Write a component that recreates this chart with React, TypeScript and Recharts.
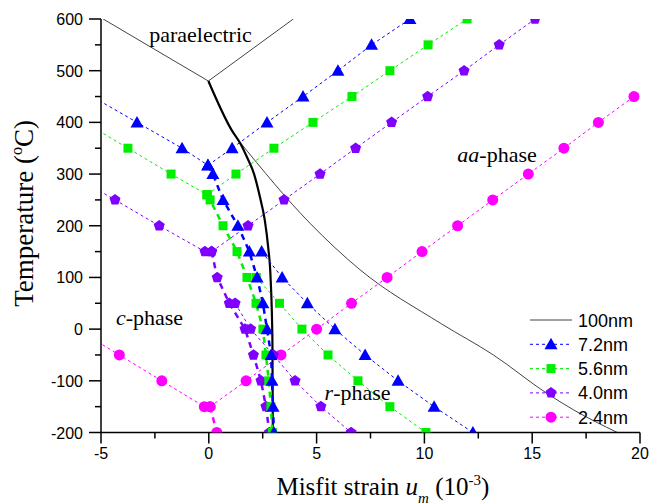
import React from "react";
import {
  LineChart,
  Line,
  XAxis,
  YAxis,
  Legend,
  ReferenceDot
} from "recharts";

// axis ticks
const xTicks = [-5, -2.5, 0, 2.5, 5, 7.5, 10, 12.5, 15, 17.5, 20];
const yTicks = [-200, -150, -100, -50, 0, 50, 100, 150, 200, 250, 300, 350, 400, 450, 500, 550, 600];

// [misfit strain (10^-3), temperature (C)]
// 100nm phase boundaries
const bulkParaC = [[-4.9, 600], [-0.02, 480]];
const bulkParaAA = [[-0.02, 480], [3.92, 600]];
const bulkCR = [[-0.02, 480], [1.06, 385], [1.45, 360], [1.8, 330], [2.1, 300], [2.37, 256], [2.6, 210], [2.75, 160], [2.87, 95], [2.95, -20], [2.97, -200]];
const bulkRA = [[1.4, 364], [4.69, 205], [7.01, 115], [10.8, 10], [13.2, -50], [15.67, -124], [16.91, -156], [18.95, -200]];

// 7.2nm
const blueParaC = [[-7.5, 500], [-3.33, 400], [-1.24, 350], [-0.04, 317]];
const blueParaAA = [[-0.04, 317], [1.08, 350], [2.7, 400], [4.37, 450], [5.99, 500], [7.55, 550], [9.33, 600]];
const blueCR = [[-0.04, 317], [0.19, 300], [0.66, 250], [1.35, 200], [1.88, 150], [2.24, 100], [2.51, 50], [2.7, 0], [2.89, -50], [2.93, -100], [2.98, -150], [3.02, -200]];
const blueRA = [[2.45, 150], [3.4, 100], [4.57, 50], [5.85, 0], [7.25, -50], [8.78, -100], [10.45, -150], [12.25, -200]];

// 5.6nm
const greenParaC = [[-7.75, 450], [-3.75, 350], [-1.75, 300], [-0.08, 260]];
const greenParaAA = [[-0.08, 260], [1.26, 300], [3.02, 350], [4.83, 400], [6.64, 450], [8.4, 500], [10.17, 550], [11.98, 600]];
const greenCR = [[-0.08, 260], [0.06, 250], [0.66, 200], [1.31, 150], [1.77, 100], [2.19, 50], [2.51, 0], [2.65, -50], [2.78, -100], [2.88, -150], [2.95, -200]];
const greenRA = [[2.2, 100], [3.28, 50], [4.32, 0], [5.53, -50], [6.92, -100], [8.4, -150], [10.07, -200]];

// 4.0nm
const purpleParaC = [[-8.45, 350], [-4.35, 250], [-2.3, 200], [-0.18, 150]];
const purpleParaAA = [[0.13, 150], [1.82, 200], [3.49, 250], [5.16, 300], [6.81, 350], [8.48, 400], [10.15, 450], [11.84, 500], [13.47, 550], [15.13, 600]];
const purpleCR = [[0.13, 150], [0.39, 100], [0.95, 50], [1.68, 0], [2.07, -50], [2.42, -100], [2.65, -150], [2.81, -200]];
const purpleRA = [[1.22, 50], [1.94, 0], [3.0, -50], [4.0, -100], [5.2, -150], [6.6, -200]];

// 2.4nm
const pinkParaC = [[-6.12, 0], [-4.15, -50], [-2.18, -100], [-0.21, -150]];
const pinkParaAA = [[0.06, -150], [1.73, -100], [3.35, -50], [5.0, 0], [6.62, 50], [8.27, 100], [9.89, 150], [11.54, 200], [13.17, 250], [14.82, 300], [16.47, 350], [18.07, 400], [19.72, 450], [21.4, 500]];
const pinkCR = [[0.06, -150], [0.37, -200]];

// phase labels
const phaseItalic = ["", "aa", "c", "r"];
const phaseRest = ["paraelectric", "-phase", "-phase", "-phase"];
const phaseU = [-0.385, 13.37, -2.75, 6.9];
const phaseT = [555, 323, 8, -137];

const legendNames = ["100nm", "7.2nm", "5.6nm", "4.0nm", "2.4nm"];

const SANS = '"Liberation Sans", Arial, sans-serif';
const SERIF = '"Liberation Serif", "Times New Roman", serif';

const BLUE = "#0000ff";
const GREEN = "#00ee00";
const PURPLE = "#7f00ff";
const PINK = "#ff00ff";
const GRAY = "#444444";

type MarkerKind = "tri" | "sq" | "pent" | "circ" | "none";

const toPts = (arr: number[][]) => arr.map(([u, t]) => ({ u, t }));

const Marker = ({ kind, cx, cy, color }: { kind: MarkerKind; cx: number; cy: number; color: string }) => {
  if (kind === "tri") {
    return <polygon points={`${cx},${cy - 6.5} ${cx + 6.5},${cy + 5} ${cx - 6.5},${cy + 5}`} fill={color} />;
  }
  if (kind === "sq") {
    return <rect x={cx - 4.5} y={cy - 4.5} width={9} height={9} fill={color} />;
  }
  if (kind === "pent") {
    const pts = [0, 1, 2, 3, 4]
      .map((i) => {
        const a = -Math.PI / 2 + (i * 2 * Math.PI) / 5;
        return `${cx + 5.8 * Math.cos(a)},${cy + 5.8 * Math.sin(a)}`;
      })
      .join(" ");
    return <polygon points={pts} fill={color} />;
  }
  if (kind === "circ") {
    return <circle cx={cx} cy={cy} r={5.5} fill={color} />;
  }
  return null;
};

const branch = (id: string, data: number[][], color: string, kind: MarkerKind, style: "thin" | "thick" | "solid" | "bold") => {
  const strokeProps =
    style === "thin"
      ? { strokeWidth: 1, strokeDasharray: "3 3" }
      : style === "thick"
      ? { strokeWidth: 2.5, strokeDasharray: "6 5" }
      : style === "bold"
      ? { strokeWidth: 2.2 }
      : { strokeWidth: 1 };
  return (
    <Line
      key={id}
      data={toPts(data)}
      dataKey="t"
      type={style === "bold" || (style === "solid" && data.length > 2) ? "monotone" : "linear"}
      stroke={color}
      {...strokeProps}
      dot={
        kind === "none"
          ? false
          : (p: any) =>
              p.cx == null || p.cy == null ? (
                <g key={`${id}-${p.index}`} />
              ) : (
                <g key={`${id}-${p.index}`}>
                  <Marker kind={kind} cx={p.cx} cy={p.cy} color={color} />
                </g>
              )
      }
      activeDot={false}
      isAnimationActive={false}
      legendType="none"
    />
  );
};

const XTick = (props: any) => {
  const { x, y, payload } = props;
  const v = payload.value;
  const major = v % 5 === 0;
  return (
    <g>
      <line x1={x} y1={y} x2={x} y2={y + (major ? 11 : 6)} stroke="#000" strokeWidth={1.5} />
      {major && (
        <text x={x} y={y + 26.5} textAnchor="middle" fontFamily={SANS} fontSize={16} fill="#000">
          {v}
        </text>
      )}
    </g>
  );
};

const YTick = (props: any) => {
  const { x, y, payload } = props;
  const v = payload.value;
  const major = v % 100 === 0;
  return (
    <g>
      <line x1={x - (major ? 12 : 6)} y1={y} x2={x} y2={y} stroke="#000" strokeWidth={1.5} />
      {major && (
        <text x={x - 18} y={y + 6} textAnchor="end" fontFamily={SANS} fontSize={16} fill="#000">
          {v}
        </text>
      )}
    </g>
  );
};

const XTitle = (props: any) => {
  const vb = props.viewBox;
  const cx = vb.x + vb.width * 0.523;
  return (
    <text x={cx} y={vb.y + 62} textAnchor="middle" fontFamily={SERIF} fontSize={25} fill="#000">
      Misfit strain <tspan fontStyle="italic">u</tspan>
      <tspan fontStyle="italic" fontSize={15} dy={8}>m</tspan>
      <tspan dy={-8}> (10</tspan>
      <tspan fontSize={15} dy={-10}>-3</tspan>
      <tspan dy={10}>)</tspan>
    </text>
  );
};

const YTitle = (props: any) => {
  const vb = props.viewBox;
  const cx = vb.x + 33;
  const cy = vb.y + vb.height * 0.47;
  return (
    <text
      x={cx}
      y={cy}
      transform={`rotate(-90 ${cx} ${cy})`}
      textAnchor="middle"
      fontFamily={SERIF}
      fontSize={27}
      fill="#000"
    >
      Temperature (<tspan fontSize={16} dy={-11}>o</tspan>
      <tspan dy={11}>C)</tspan>
    </text>
  );
};

const phaseLabel = (i: number) => (props: any) => {
  const vb = props.viewBox;
  return (
    <text x={vb.x} y={vb.y} textAnchor="middle" fontFamily={SERIF} fontSize={22} fill="#000">
      {phaseItalic[i] && <tspan fontStyle="italic">{phaseItalic[i]}</tspan>}
      {phaseRest[i]}
    </text>
  );
};

const legendStyle: { color: string; kind: MarkerKind; dashed: boolean }[] = [
  { color: GRAY, kind: "none", dashed: false },
  { color: BLUE, kind: "tri", dashed: true },
  { color: GREEN, kind: "sq", dashed: true },
  { color: PURPLE, kind: "pent", dashed: true },
  { color: PINK, kind: "circ", dashed: true }
];

const LegendBox = () => (
  <svg width={120} height={125}>
    {legendNames.map((name, i) => {
      const cy = 13 + i * 24.3;
      const s = legendStyle[i];
      return (
        <g key={name}>
          <line
            x1={4}
            x2={46}
            y1={cy}
            y2={cy}
            stroke={s.color}
            strokeWidth={1}
            strokeDasharray={s.dashed ? "3 3" : undefined}
          />
          <Marker kind={s.kind} cx={25} cy={cy} color={s.color} />
          <text x={52} y={cy + 6.5} fontFamily={SANS} fontSize={18} fill="#000">
            {name}
          </text>
        </g>
      );
    })}
  </svg>
);

export default function App() {
  return (
    <div style={{ position: "absolute", left: 0, top: 0, width: 649, height: 504, background: "#fff" }}>
      <LineChart width={649} height={504} margin={{ top: 19, right: 9, bottom: 0, left: 0 }}>
        <XAxis
          type="number"
          dataKey="u"
          domain={[-5, 20]}
          ticks={xTicks}
          interval={0}
          allowDataOverflow
          height={71.5}
          tickSize={0}
          tickMargin={0}
          tickLine={false}
          tick={XTick}
          axisLine={{ stroke: "#000", strokeWidth: 1.5 }}
          label={XTitle}
        />
        <YAxis
          type="number"
          domain={[-200, 600]}
          ticks={yTicks}
          interval={0}
          allowDataOverflow
          width={101}
          tickSize={0}
          tickMargin={0}
          tickLine={false}
          tick={YTick}
          axisLine={{ stroke: "#000", strokeWidth: 1.5 }}
          label={YTitle}
        />
        <XAxis
          xAxisId="top"
          orientation="top"
          type="number"
          domain={[-5, 20]}
          height={0}
          tick={false}
          tickLine={false}
          axisLine={{ stroke: "#000", strokeWidth: 1.5 }}
        />
        <YAxis
          yAxisId="right"
          orientation="right"
          type="number"
          domain={[-200, 600]}
          width={0}
          tick={false}
          tickLine={false}
          axisLine={{ stroke: "#000", strokeWidth: 1.5 }}
        />

        {/* 100nm boundaries */}
        {branch("bPC", bulkParaC, GRAY, "none", "solid")}
        {branch("bPA", bulkParaAA, GRAY, "none", "solid")}
        {branch("bRA", bulkRA, GRAY, "none", "solid")}
        {branch("bCR", bulkCR, "#000", "none", "bold")}

        {/* 2.4nm */}
        {branch("pkPC", pinkParaC, PINK, "circ", "thin")}
        {branch("pkPA", pinkParaAA, PINK, "circ", "thin")}
        {branch("pkCR", pinkCR, PINK, "circ", "thick")}

        {/* 4.0nm */}
        {branch("puPC", purpleParaC, PURPLE, "pent", "thin")}
        {branch("puPA", purpleParaAA, PURPLE, "pent", "thin")}
        {branch("puRA", purpleRA, PURPLE, "pent", "thin")}
        {branch("puCR", purpleCR, PURPLE, "pent", "thick")}

        {/* 5.6nm */}
        {branch("gPC", greenParaC, GREEN, "sq", "thin")}
        {branch("gPA", greenParaAA, GREEN, "sq", "thin")}
        {branch("gRA", greenRA, GREEN, "sq", "thin")}
        {branch("gCR", greenCR, GREEN, "sq", "thick")}

        {/* 7.2nm */}
        {branch("blPC", blueParaC, BLUE, "tri", "thin")}
        {branch("blPA", blueParaAA, BLUE, "tri", "thin")}
        {branch("blRA", blueRA, BLUE, "tri", "thin")}
        {branch("blCR", blueCR, BLUE, "tri", "thick")}

        {/* phase labels */}
        {phaseRest.map((_, i) => (
          <ReferenceDot
            key={`ph-${i}`}
            x={phaseU[i]}
            y={phaseT[i]}
            r={0}
            fill="none"
            stroke="none"
            label={phaseLabel(i)}
          />
        ))}

        <Legend
          layout="horizontal"
          verticalAlign="middle"
          align="center"
          content={LegendBox}
          wrapperStyle={{ left: 526, top: 307, width: 120, height: 125 }}
        />
      </LineChart>
    </div>
  );
}
